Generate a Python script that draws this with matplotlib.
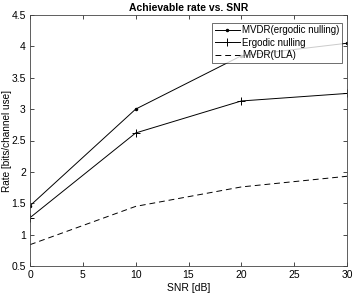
import matplotlib

matplotlib.use("Agg")
import matplotlib.pyplot as plt

plt.rcParams["font.family"] = ["Liberation Sans", "DejaVu Sans"]
plt.rcParams["font.size"] = 7.5

snr = [0, 10, 20, 30]
mvdr_ergodic = [1.46, 3.0, 3.85, 4.05]
ergodic_nulling = [1.27, 2.62, 3.13, 3.25]
mvdr_ula = [0.84, 1.45, 1.76, 1.93]

fig = plt.figure(figsize=(3.53, 2.96), dpi=100)
ax = fig.add_axes([30 / 353, 30 / 296, 317 / 353, 251 / 296])
ax.plot(snr, mvdr_ergodic, color="black", linewidth=0.7, marker=".", markersize=3,
        label="MVDR(ergodic nulling)")
ax.plot(snr, ergodic_nulling, color="black", linewidth=0.7, marker="+", markersize=6,
        markeredgewidth=0.7, label="Ergodic nulling")
ax.plot(snr, mvdr_ula, color="black", linewidth=0.7, linestyle=(0, (6, 4)),
        label="MVDR(ULA)")

ax.set_xlim(0, 30)
ax.set_ylim(0.5, 4.5)
ax.set_xticks([0, 5, 10, 15, 20, 25, 30])
ax.set_yticks([0.5, 1, 1.5, 2, 2.5, 3, 3.5, 4, 4.5])
ax.set_yticklabels(["0.5", "1", "1.5", "2", "2.5", "3", "3.5", "4", "4.5"])
ax.tick_params(direction="in", length=3, width=0.5, top=True, right=True, pad=3)
for spine in ax.spines.values():
    spine.set_linewidth(0.6)
    spine.set_color("#444444")
ax.set_title("Achievable rate vs. SNR", fontweight="bold", fontsize=7.5, pad=3)
ax.set_xlabel("SNR [dB]", labelpad=2)
ax.set_ylabel("Rate [bits/channel use]", fontsize=7.2)
ax.yaxis.set_label_coords(-0.056, 0.5)
leg = ax.legend(loc="upper right", bbox_to_anchor=(0.985, 0.97), fontsize=7,
                frameon=True, fancybox=False, edgecolor="black", borderpad=0.3,
                handlelength=2.6, labelspacing=0.25, handletextpad=0.2, borderaxespad=0.0)
leg.get_frame().set_linewidth(0.5)

fig.savefig("out.png", dpi=100)
